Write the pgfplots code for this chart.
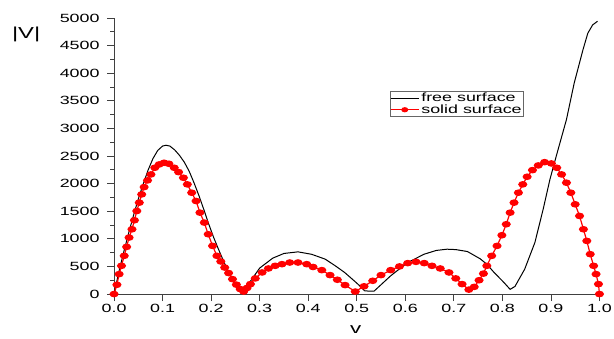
\documentclass[border=0pt]{standalone}
\usepackage{fontspec}
\setmainfont[FakeStretch=1.5]{Liberation Sans}
\usepackage{pgfplots}
\pgfplotsset{compat=1.18}
\usetikzlibrary{calc}
\begin{document}
\begin{tikzpicture}
\begin{axis}[
  scale only axis, width=487bp, height=277bp,
  xmin=0, xmax=1, ymin=0, ymax=5000,
  axis lines*=left,
  axis line style={line width=0.8bp, black!75},
  tick style={line width=0.8bp, black!75},
  tick align=outside,
  major tick length=7bp, minor tick length=4bp,
  xtick={0,0.1,...,1.0},
  ytick={0,500,...,5000},
  minor y tick num=1,
  /pgf/number format/assume math mode=true,
  /pgf/number format/1000 sep={},
  xticklabel style={/pgf/number format/.cd, fixed, fixed zerofill, precision=1},
  yticklabel style={xshift=-4bp},
  tick label style={font=\fontsize{12}{14}\selectfont},
  clip=false,
  legend style={at={(axis description cs:0.569,0.735)}, anchor=north west,
    draw=black!60, line width=0.6bp, inner sep=0bp, outer sep=0pt,
    font=\fontsize{12}{9}\selectfont, row sep=-2.5bp,
    /tikz/every even column/.append style={column sep=0.5bp}},
  legend cell align=left,
  legend image code/.code={\draw[mark repeat=2,mark phase=2,#1,mark size=2bp] plot coordinates {(0bp,0bp) (14bp,0bp) (28bp,0bp)};},
]
\addplot[black, line width=1bp] coordinates {
(0,0)(0.01,400)(0.02,760)(0.03,1100)(0.04,1420)(0.05,1720)(0.06,1990)(0.07,2240)(0.08,2450)(0.09,2600)(0.1,2680)(0.107,2695)(0.115,2680)(0.125,2610)(0.135,2510)(0.145,2385)(0.155,2220)(0.165,2010)(0.175,1780)(0.185,1530)(0.195,1270)(0.205,1030)(0.215,815)(0.225,610)(0.235,420)(0.245,250)(0.255,120)(0.266,30)(0.28,220)(0.30,470)(0.327,650)(0.35,735)(0.379,764)(0.407,720)(0.435,632)(0.456,510)(0.475,391)(0.496,230)(0.506,150)(0.516,60)(0.522,55)(0.536,55)(0.57,331)(0.605,571)(0.639,722)(0.664,790)(0.686,812)(0.704,805)(0.728,770)(0.754,640)(0.768,541)(0.782,400)(0.803,211)(0.816,85)(0.826,138)(0.846,451)(0.867,933)(0.884,1534)(0.898,2076)(0.911,2497)(0.932,3159)(0.948,3821)(0.966,4422)(0.976,4723)(0.986,4874)(0.996,4940)
};
\addlegendentry{free surface}
\addplot[red, line width=1.2bp, mark=*, mark size=2.7bp, mark options={xscale=1.45, fill=red, draw=red}] coordinates {
(0,0)(0.006,168)(0.0105,361)(0.0154,511)(0.021,692)(0.026,854)(0.031,1023)(0.037,1173)(0.042,1336)(0.047,1504)(0.052,1655)(0.057,1805)(0.062,1937)(0.069,2058)(0.076,2166)(0.084,2287)(0.093,2347)(0.103,2377)(0.113,2359)(0.124,2287)(0.133,2208)(0.143,2106)(0.151,1986)(0.160,1835)(0.169,1685)(0.177,1474)(0.186,1294)(0.194,1083)(0.203,872)(0.212,692)(0.220,590)(0.228,480)(0.236,380)(0.244,270)(0.252,170)(0.260,90)(0.267,45)(0.274,110)(0.281,180)(0.291,283)(0.305,391)(0.318,463)(0.332,511)(0.346,541)(0.362,571)(0.379,571)(0.397,541)(0.410,490)(0.428,433)(0.445,343)(0.460,259)(0.476,162)(0.497,45)(0.515,140)(0.533,240)(0.550,343)(0.570,433)(0.588,500)(0.605,560)(0.622,583)(0.639,560)(0.655,511)(0.672,463)(0.690,391)(0.704,283)(0.717,180)(0.731,80)(0.742,130)(0.752,250)(0.761,370)(0.768,511)(0.778,692)(0.789,872)(0.799,1065)(0.808,1264)(0.816,1474)(0.824,1655)(0.833,1835)(0.842,1986)(0.851,2124)(0.862,2244)(0.874,2329)(0.887,2388)(0.901,2365)(0.912,2287)(0.922,2166)(0.932,2016)(0.941,1835)(0.950,1625)(0.959,1414)(0.967,1173)(0.974,962)(0.981,722)(0.988,511)(0.993,361)(0.998,180)(1.0,0)
};
\addlegendentry{solid surface}
\node[font=\fontsize{16}{18}\selectfont] at (axis description cs:-0.181,0.939) {|V|};
\node[font=\fontsize{15}{17}\selectfont] at (axis description cs:0.498,-0.13) {v};
\end{axis}
\pgfresetboundingbox
\path ($(current axis.south west)+(-114.4bp,-45bp)$) rectangle ($(current axis.south west)+(501.6bp,295bp)$);
\end{tikzpicture}
\end{document}
